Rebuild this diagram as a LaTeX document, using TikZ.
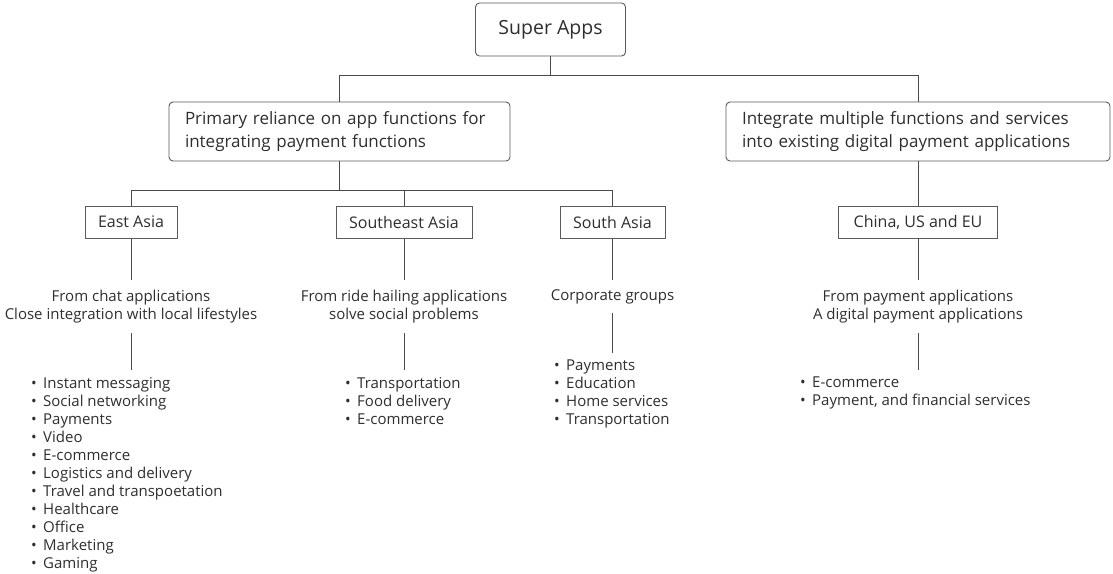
\documentclass[tikz,border=0pt]{standalone}
\usepackage{fontspec}
\setmainfont{Open Sans}
\definecolor{linec}{HTML}{4A4A4A}
\definecolor{boxc}{HTML}{5A5A5A}
\definecolor{txt}{HTML}{2E2E2E}
\newcommand{\bitem}{\makebox[12pt][l]{\textbullet}}
\begin{document}
\begin{tikzpicture}[x=1pt,y=-1pt,
  topbox/.style={draw=boxc, rounded corners=4pt, line width=0.9pt, text=txt, font=\fontsize{17}{23}\selectfont, inner sep=0pt},
  regbox/.style={draw=boxc, line width=0.9pt, text=txt, font=\fontsize{16}{19}\selectfont, inner sep=0pt, minimum height=32pt},
  desc/.style={text=txt, font=\fontsize{15}{18}\selectfont, align=center, inner sep=0pt},
  itemlist/.style={text=txt, font=\fontsize{15}{18}\selectfont, align=left, anchor=north west, inner xsep=0pt, inner ysep=7pt},
  conn/.style={draw=linec, line width=0.9pt}
]
\useasboundingbox (0,0) rectangle (1113,573);

% top level
\node[topbox, minimum width=150pt, minimum height=53pt, font=\fontsize{19.5}{23}\selectfont] (super) at (550.5,29.5) {Super Apps};
\node[topbox, minimum width=341pt, minimum height=59pt, text width=309pt, inner xsep=16pt, align=left] (left) at (339.5,131.5)
  {Primary reliance on app functions for\\integrating payment functions};
\node[topbox, minimum width=384pt, minimum height=59pt, text width=352pt, inner xsep=16pt, align=left] (right) at (918,131.5)
  {Integrate multiple functions and services\\into existing digital payment applications};

% regions
\node[regbox, minimum width=92pt] (ea) at (131,222) {East Asia};
\node[regbox, minimum width=136pt] (sea) at (404,222) {Southeast Asia};
\node[regbox, minimum width=105pt] (sa) at (612.5,222) {South Asia};
\node[regbox, minimum width=159pt] (cue) at (918,222) {China, US and EU};

% descriptions
\node[desc, minimum height=53pt] (ead) at (131,306.5) {From chat applications\\Close integration with local lifestyles};
\node[desc, minimum height=53pt] (sead) at (404,306.5) {From ride hailing applications\\solve social problems};
\node[desc, minimum height=33pt] (sad) at (612.5,296.5) {Corporate groups};
\node[desc, minimum height=53pt] (cued) at (918,306.5) {From payment applications\\A digital payment applications};

% lists
\node[itemlist] (eal) at (31,370) {\bitem Instant messaging\\\bitem Social networking\\\bitem Payments\\\bitem Video\\\bitem E-commerce\\\bitem Logistics and delivery\\\bitem Travel and transpoetation\\\bitem Healthcare\\\bitem Office\\\bitem Marketing\\\bitem Gaming};
\node[itemlist] (seal) at (345,370) {\bitem Transportation\\\bitem Food delivery\\\bitem E-commerce};
\node[itemlist] (sal) at (554,353) {\bitem Payments\\\bitem Education\\\bitem Home services\\\bitem Transportation};
\node[itemlist] (cuel) at (800,370) {\bitem E-commerce\\\bitem Payment, and financial services};

% connectors
\draw[conn] (super.south) -- ++(0,19) -| (left.north);
\draw[conn] (super.south) -- ++(0,19) -| (right.north);
\draw[conn] (left.south) -- ++(0,29) -| (ea.north);
\draw[conn] (left.south) -- ++(0,29) -| (sea.north);
\draw[conn] (left.south) -- ++(0,29) -| (sa.north);
\draw[conn] (right.south) -- (cue.north);

\draw[conn] (ea.south) -- (ead.north);
\draw[conn] (sea.south) -- (sead.north);
\draw[conn] (sa.south) -- (sad.north);
\draw[conn] (cue.south) -- (cued.north);

\draw[conn] (ead.south) -- (ead.south |- eal.north);
\draw[conn] (sead.south) -- (sead.south |- seal.north);
\draw[conn] (sad.south) -- (sad.south |- sal.north);
\draw[conn] (cued.south) -- (cued.south |- cuel.north);
\end{tikzpicture}
\end{document}
